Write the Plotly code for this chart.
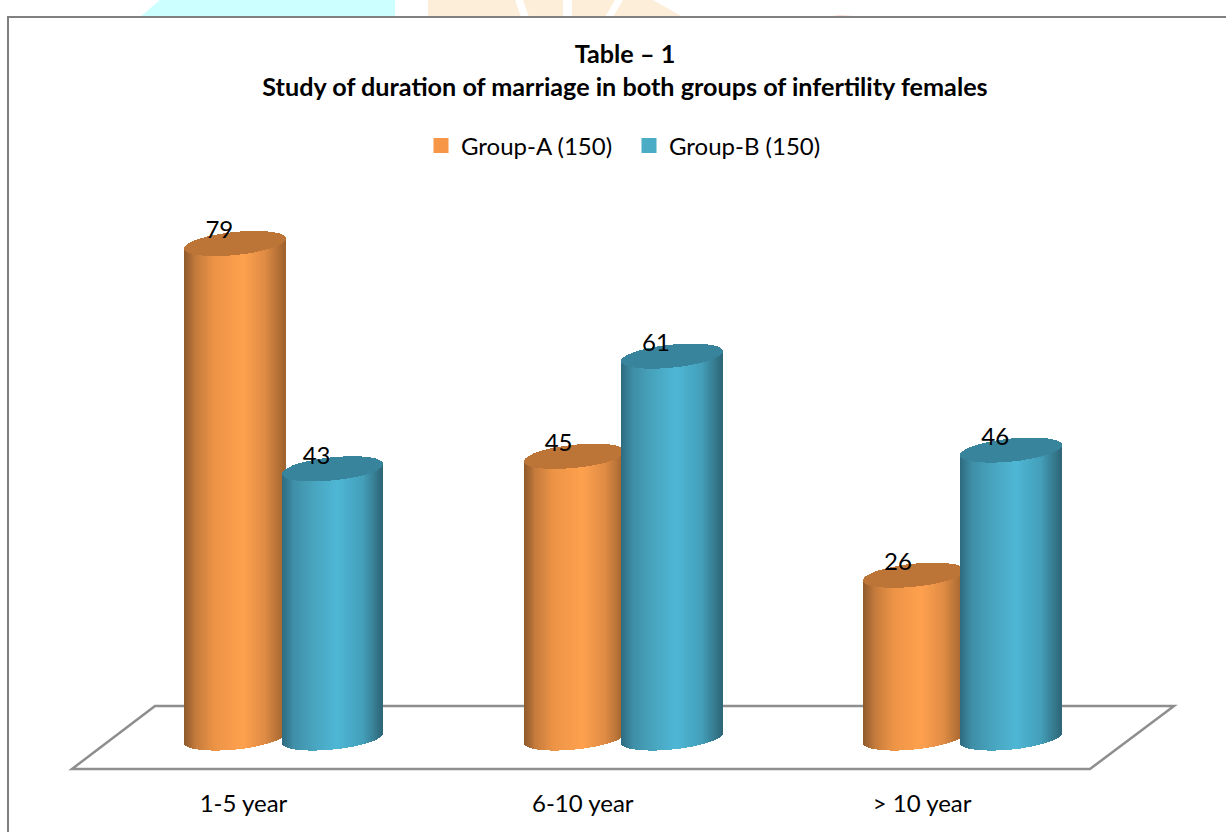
import numpy as np
import plotly.graph_objects as go

categories = ["1-5 year", "6-10 year", "> 10 year"]
group_a = [79, 45, 26]
group_b = [43, 61, 46]
name_a = "Group-A (150)"
name_b = "Group-B (150)"
title_lines = ["Table – 1", "Study of duration of marriage in both groups of infertility females"]

W, H = 1226, 832
PX_X = 339.3           # pixels per category
PX_Y = 6.26            # pixels per value unit
X0_PX = 243.5          # pixel of the first category
Y0_PX = 738.0          # pixel of value zero
PLOT_T, PLOT_B = 190, 787

A_OFF = (235.3 - X0_PX) / PX_X
B_OFF = (332.6 - X0_PX) / PX_X
HALF_W = 50.4 / PX_X
TILT = 5 / PX_Y
MINOR = 11.5 / PX_Y
N = 102

ORANGE = dict(stops=[(0, "#8f5a2b"), (.12, "#c67c3d"), (.3, "#ed9447"), (.58, "#ffa14e"),
                     (.8, "#e08c45"), (1, "#a0642f")], top="#bd7537", key="#f79646")
BLUE = dict(stops=[(0, "#2f6b80"), (.12, "#3f8fa8"), (.3, "#48a3bd"), (.55, "#4fb7d6"),
                   (.8, "#44a0ba"), (1, "#2f6779")], top="#38849c", key="#4bacc6")


def hex2rgb(h):
    return np.array([int(h[i:i + 2], 16) for i in (1, 3, 5)], float)


def shade(stops, t):
    pos = [s[0] for s in stops]
    rgb = np.array([hex2rgb(s[1]) for s in stops])
    vals = [np.interp(t, pos, rgb[:, i]) for i in range(3)]
    return "rgb(%d,%d,%d)" % tuple(int(v) for v in vals)


def cylinder_traces(values, off, style):
    xs, bases, heights, colors = [], [], [], []
    top_x, top_b, top_h = [], [], []
    u = (np.arange(N) + .5) / N * 2 - 1
    strip = 2 * HALF_W / N * 1.2
    for i, v in enumerate(values):
        for uu in u:
            arc = MINOR * np.sqrt(1 - uu ** 2)
            bottom = -arc + TILT * uu
            xs.append(i + off + uu * HALF_W)
            bases.append(bottom)
            heights.append(v + TILT * uu - bottom)
            colors.append(shade(style["stops"], (uu + 1) / 2))
            top_x.append(i + off + uu * HALF_W)
            top_b.append(v + TILT * uu - arc)
            top_h.append(2 * arc)
    return [
        go.Bar(x=xs, y=heights, base=bases, width=strip,
               marker=dict(color=colors, line=dict(width=0)), showlegend=False, hoverinfo="skip"),
        go.Bar(x=top_x, y=top_h, base=top_b, width=strip,
               marker=dict(color=style["top"], line=dict(width=0)), showlegend=False, hoverinfo="skip"),
    ]


def py(p):
    return (PLOT_B - p) / (PLOT_B - PLOT_T)


def px(p):
    return p / W


def poly(points, color):
    d = "M" + " L".join(f"{px(a):.5f},{py(b):.5f}" for a, b in points) + " Z"
    return dict(type="path", xref="paper", yref="paper", path=d, fillcolor=color, line_width=0, layer="below")


def dx(p):
    return (p - X0_PX) / PX_X


def dy(p):
    return (Y0_PX - p) / PX_Y


fig = go.Figure()

for tr in cylinder_traces(group_a, A_OFF, ORANGE) + cylinder_traces(group_b, B_OFF, BLUE):
    fig.add_trace(tr)

# legend keys
for name, st, lg in ((name_a, ORANGE, "legend"), (name_b, BLUE, "legend2")):
    fig.add_trace(go.Scatter(x=[None], y=[None], name=name, mode="markers", legend=lg,
                             marker=dict(symbol="square", size=15, color=st["key"])))

# data labels
LX = -16 / PX_X
LY = 11 / PX_Y
for vals, off in ((group_a, A_OFF), (group_b, B_OFF)):
    fig.add_trace(go.Scatter(x=[i + off + LX for i in range(3)], y=[v + LY for v in vals],
                             mode="text", text=[str(v) for v in vals], textposition="middle center",
                             textfont=dict(size=24, color="#000000"),
                             showlegend=False, hoverinfo="skip"))

floor = (f"M{dx(155):.4f},{dy(706):.4f} L{dx(1174):.4f},{dy(706):.4f} "
         f"L{dx(1090):.4f},{dy(769):.4f} L{dx(72):.4f},{dy(769):.4f} Z")

fig.update_layout(
    width=W, height=H,
    margin=dict(l=0, r=0, t=PLOT_T, b=H - PLOT_B, autoexpand=False),
    paper_bgcolor="#ffffff", plot_bgcolor="rgba(0,0,0,0)",
    barmode="overlay", bargap=0,
    font=dict(family="Lato, Carlito, sans-serif", size=24, color="#000000"),
    title=dict(text="<b>" + "<br>".join(title_lines) + "</b>", x=625 / W, xanchor="center",
               y=1 - 63 / H, yanchor="top", yref="container", font=dict(size=25.2, color="#000000"),
               pad=dict(t=0, b=0)),
    legend=dict(orientation="h", x=px(421), xanchor="left", y=py(146), yanchor="middle",
                font=dict(size=24), bgcolor="rgba(0,0,0,0)", itemwidth=30),
    legend2=dict(orientation="h", x=px(629), xanchor="left", y=py(146), yanchor="middle",
                 font=dict(size=24), bgcolor="rgba(0,0,0,0)", itemwidth=30),
    xaxis=dict(range=[dx(0), dx(W)], tickmode="array",
               tickvals=list(range(3)), ticktext=categories, showgrid=False, zeroline=False,
               showline=False, ticks="", tickfont=dict(size=24)),
    yaxis=dict(range=[dy(PLOT_B), dy(PLOT_T)], visible=False),
    shapes=[
        # printed page behind the chart frame
        poly([(140, 17), (160, 0), (395, 0), (395, 17)], "#ccffff"),
        poly([(428, 17), (428, 0), (515, 0), (521, 17)], "#fdeeda"),
        poly([(529, 17), (523, 0), (563, 0), (563, 17)], "#fdeeda"),
        poly([(572, 17), (572, 0), (615, 0), (605, 17)], "#fdeeda"),
        poly([(613, 17), (623, 0), (653, 0), (683, 17)], "#fdeeda"),
        poly([(822, 17), (840, 15), (868, 17)], "#fbdcd8"),
        dict(type="rect", xref="paper", yref="paper", x0=px(8), x1=px(1240), y0=py(850), y1=py(17),
             fillcolor="#ffffff", line=dict(color="#808080", width=2), layer="below"),
        dict(type="path", xref="x", yref="y", path=floor, line=dict(color="#8e8e8e", width=2.5), layer="below"),
    ],
)

fig.write_html("out.html", config=dict(displayModeBar=False), post_script="document.body.style.margin='0';")
